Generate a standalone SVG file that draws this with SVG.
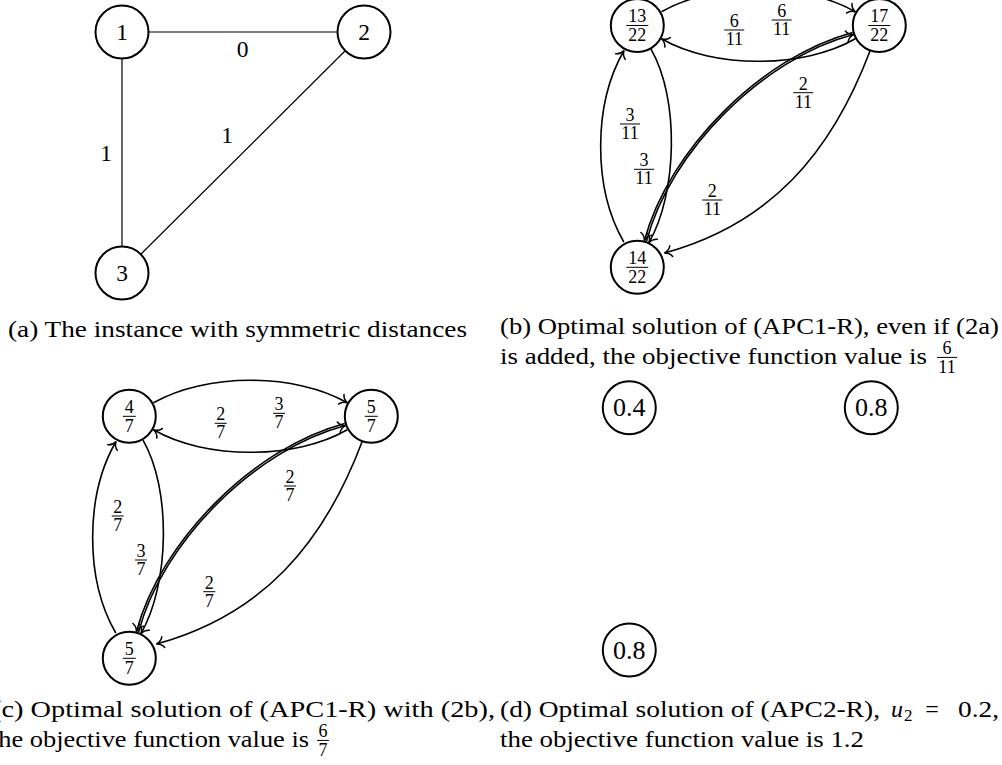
<svg xmlns="http://www.w3.org/2000/svg" width="1002" height="765" viewBox="0 0 1002 765">
<defs>
<marker id="ah" markerUnits="userSpaceOnUse" markerWidth="20" markerHeight="20" refX="0" refY="0" orient="auto" overflow="visible">
<path d="M-7,-5.5 C-5.5,-2.2 -2.2,-0.5 0,0 C-2.2,0.5 -5.5,2.2 -7,5.5" fill="none" stroke="#000" stroke-width="1.5" stroke-linecap="round"/>
</marker>
</defs>
<style>
.nd{fill:#fff;stroke:#000;stroke-width:2}
.t{font-family:"Liberation Serif","Times New Roman",serif;fill:#000}
.nl{font-size:23.5px;text-anchor:middle}
.nl2{font-size:26px;text-anchor:middle}
.fr{font-size:18px;text-anchor:middle}
.bar{stroke:#000;stroke-width:1}
.e{fill:none;stroke:#000;stroke-width:1.6;marker-end:url(#ah)}
.l{fill:none;stroke:#000;stroke-width:1.2}
.cap{font-size:24px}
</style>
<rect width="1002" height="765" fill="#fff"/>

<!-- connectors -->
<g id="connectors">
  <g id="edges-a">
    <line class="l" x1="148.5" y1="32" x2="337.5" y2="32"/>
    <line class="l" x1="122" y1="58.5" x2="122" y2="246.5"/>
    <line class="l" x1="345.2" y1="50.8" x2="140.8" y2="254.2"/>
  </g>
  <g id="edges-b" transform="translate(508,-391)">
    <path class="e" d="M153.5,402.8 C205.5,372.8 295.3,372.8 347.3,402.8"/>
    <path class="e" d="M347.3,429.8 C295.3,459.8 205.5,459.8 153.5,429.8"/>
    <path class="e" d="M115.8,633 C84.8,579.3 85,495.2 116,441.5"/>
    <path class="e" d="M143,440.1 C171.5,489.5 169.5,584.1 141,633.5"/>
    <path class="e" d="M344.7,423.4 C253.7,447.8 160.8,540.7 136.4,631.7"/>
    <path class="e" d="M138.4,632.5 C162.3,541.7 255,449.3 345.5,425.6"/>
    <path class="e" d="M362,442 C323,545 262,615 156.5,644"/>
  </g>
  <g id="edges-c">
    <path class="e" d="M153.5,402.8 C205.5,372.8 295.3,372.8 347.3,402.8"/>
    <path class="e" d="M347.3,429.8 C295.3,459.8 205.5,459.8 153.5,429.8"/>
    <path class="e" d="M115.8,633 C84.8,579.3 85,495.2 116,441.5"/>
    <path class="e" d="M143,440.1 C171.5,489.5 169.5,584.1 141,633.5"/>
    <path class="e" d="M344.7,423.4 C253.7,447.8 160.8,540.7 136.4,631.7"/>
    <path class="e" d="M138.4,632.5 C162.3,541.7 255,449.3 345.5,425.6"/>
    <path class="e" d="M362,442 C323,545 262,615 156.5,644"/>
  </g>
</g>

<!-- edge labels -->
<g id="labels-a" class="t nl">
  <text x="242.7" y="57.2">0</text>
  <text x="106" y="160.6">1</text>
  <text x="227" y="142.9">1</text>
</g>
<g id="labels-b" class="t fr">
  <text x="734.3" y="27">6</text><line class="bar" x1="724.3" y1="30" x2="744.3" y2="30"/><text x="734.3" y="45">11</text>
  <text x="781.7" y="17">6</text><line class="bar" x1="771.7" y1="20" x2="791.7" y2="20"/><text x="781.7" y="35">11</text>
  <text x="803.3" y="89.7">2</text><line class="bar" x1="793.3" y1="92.7" x2="813.3" y2="92.7"/><text x="803.3" y="107.7">11</text>
  <text x="630" y="121">3</text><line class="bar" x1="620" y1="124" x2="640" y2="124"/><text x="630" y="139">11</text>
  <text x="644" y="166.3">3</text><line class="bar" x1="634" y1="169.3" x2="654" y2="169.3"/><text x="644" y="184.3">11</text>
  <text x="712.3" y="197">2</text><line class="bar" x1="702.3" y1="200" x2="722.3" y2="200"/><text x="712.3" y="215">11</text>
</g>
<g id="labels-c" class="t fr">
  <text x="220.7" y="420.3">2</text><line class="bar" x1="214.7" y1="423.3" x2="226.7" y2="423.3"/><text x="220.7" y="438.3">7</text>
  <text x="279" y="410.3">3</text><line class="bar" x1="273" y1="413.3" x2="285" y2="413.3"/><text x="279" y="428.3">7</text>
  <text x="290" y="483">2</text><line class="bar" x1="284" y1="486" x2="296" y2="486"/><text x="290" y="501">7</text>
  <text x="117.7" y="513">2</text><line class="bar" x1="111.7" y1="516" x2="123.7" y2="516"/><text x="117.7" y="531">7</text>
  <text x="141" y="557">3</text><line class="bar" x1="135" y1="560" x2="147" y2="560"/><text x="141" y="575">7</text>
  <text x="209.3" y="588.7">2</text><line class="bar" x1="203.3" y1="591.7" x2="215.3" y2="591.7"/><text x="209.3" y="606.7">7</text>
</g>

<!-- nodes (a) -->
<g id="a-n1"><circle class="nd" cx="122" cy="32" r="26.5"/><text class="t nl" x="122" y="39.8">1</text></g>
<g id="a-n2"><circle class="nd" cx="364" cy="32" r="26.5"/><text class="t nl" x="364" y="39.8">2</text></g>
<g id="a-n3"><circle class="nd" cx="122" cy="273" r="26.5"/><text class="t nl" x="122" y="280.8">3</text></g>

<!-- nodes (b) -->
<g id="b-n1" class="t fr"><circle class="nd" cx="637.3" cy="25.5" r="26.5"/><text x="637.3" y="22">13</text><line class="bar" x1="626.3" y1="25.5" x2="648.3" y2="25.5"/><text x="637.3" y="41">22</text></g>
<g id="b-n2" class="t fr"><circle class="nd" cx="879.3" cy="25.5" r="26.5"/><text x="879.3" y="22">17</text><line class="bar" x1="868.3" y1="25.5" x2="890.3" y2="25.5"/><text x="879.3" y="41">22</text></g>
<g id="b-n3" class="t fr"><circle class="nd" cx="637.3" cy="267.3" r="26.5"/><text x="637.3" y="263.8">14</text><line class="bar" x1="626.3" y1="267.3" x2="648.3" y2="267.3"/><text x="637.3" y="282.8">22</text></g>

<!-- nodes (c) -->
<g id="c-n1" class="t fr"><circle class="nd" cx="129.3" cy="416.3" r="26.5"/><text x="129.3" y="412.8">4</text><line class="bar" x1="122.8" y1="416.3" x2="135.8" y2="416.3"/><text x="129.3" y="431.8">7</text></g>
<g id="c-n2" class="t fr"><circle class="nd" cx="371.3" cy="416.3" r="26.5"/><text x="371.3" y="412.8">5</text><line class="bar" x1="364.8" y1="416.3" x2="377.8" y2="416.3"/><text x="371.3" y="431.8">7</text></g>
<g id="c-n3" class="t fr"><circle class="nd" cx="129.3" cy="658.3" r="26.5"/><text x="129.3" y="654.8">5</text><line class="bar" x1="122.8" y1="658.3" x2="135.8" y2="658.3"/><text x="129.3" y="673.8">7</text></g>

<!-- nodes (d) -->
<g id="d-n1"><circle class="nd" cx="629.3" cy="407.7" r="26.5"/><text class="t nl2" x="629.3" y="416.4">0.4</text></g>
<g id="d-n2"><circle class="nd" cx="871.3" cy="407.7" r="26.5"/><text class="t nl2" x="871.3" y="416.4">0.8</text></g>
<g id="d-n3"><circle class="nd" cx="629.3" cy="650" r="26.5"/><text class="t nl2" x="629.3" y="658.7">0.8</text></g>

<!-- captions -->
<g id="captions" class="t cap">
  <text x="8" y="336.5" textLength="459" lengthAdjust="spacingAndGlyphs">(a) The instance with symmetric distances</text>
  <text x="500" y="334" textLength="499" lengthAdjust="spacingAndGlyphs">(b) Optimal solution of (APC1-R), even if (2a)</text>
  <text x="500" y="363.5" textLength="427" lengthAdjust="spacingAndGlyphs">is added, the objective function value is</text>
  <g class="fr"><text x="947" y="354">6</text><line class="bar" x1="937" y1="357.4" x2="957" y2="357.4"/><text x="947" y="372.5">11</text></g>
  <text x="-8" y="717" textLength="503" lengthAdjust="spacingAndGlyphs">(c) Optimal solution of (APC1-R) with (2b),</text>
  <text x="-9" y="746.5" textLength="318" lengthAdjust="spacingAndGlyphs">the objective function value is</text>
  <g class="fr"><text x="323" y="737">6</text><line class="bar" x1="317" y1="740.4" x2="329" y2="740.4"/><text x="323" y="755.5">7</text></g>
  <text x="500" y="717" textLength="380" lengthAdjust="spacingAndGlyphs">(d) Optimal solution of (APC2-R),</text>
  <text x="891" y="717" font-style="italic">u</text>
  <text x="904" y="721" font-size="17">2</text>
  <text x="932" y="717" text-anchor="middle">=</text>
  <text x="958" y="717" textLength="41" lengthAdjust="spacingAndGlyphs">0.2,</text>
  <text x="500" y="746.5" textLength="364" lengthAdjust="spacingAndGlyphs">the objective function value is 1.2</text>
</g>
</svg>
